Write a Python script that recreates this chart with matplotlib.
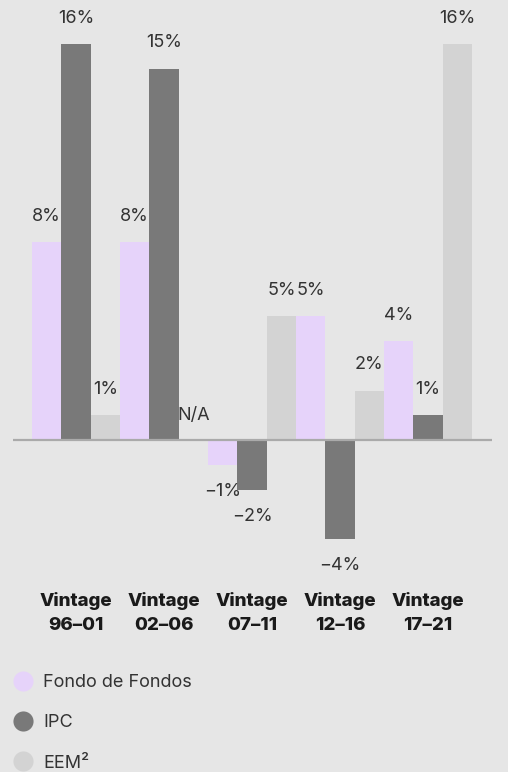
import numpy as np
import matplotlib.pyplot as plt
from matplotlib.lines import Line2D

# data
categories = ["Vintage\n96–01", "Vintage\n02–06", "Vintage\n07–11", "Vintage\n12–16", "Vintage\n17–21"]
series_names = ["Fondo de Fondos", "IPC", "EEM²"]
fondo = [8, 8, -1, 5, 4]
ipc = [16, 15, -2, -4, 1]
eem = [1, np.nan, 5, 2, 16]

colors = ["#e6d3fa", "#797979", "#d3d3d3"]
bg = "#e6e6e6"

plt.rcParams['font.family'] = ['Inter', 'DejaVu Sans']

W, H = 508, 772
fig = plt.figure(figsize=(W / 100, H / 100), dpi=100, facecolor=bg)
# axes spans pixel x 13..492, y 0..560
ax = fig.add_axes([13 / W, (H - 560) / H, 479 / W, 560 / H])
ax.set_facecolor(bg)

px_per_unit = 88.0
px_per_pct = 24.75
ax.set_xlim(-0.5 - 19 / px_per_unit, -0.5 - 19 / px_per_unit + 479 / px_per_unit)
ax.set_ylim(-(560 - 440) / px_per_pct, 440 / px_per_pct)

x = np.arange(len(categories))
w = 1 / 3


def fmt(v):
    s = f"{abs(v):.0f}%"
    return ("−" + s) if v < 0 else s


lbl = dict(textcoords='offset points', ha='center', va='center', fontsize=13, color='#333333')
for j, (vals, c) in enumerate(zip([fondo, ipc, eem], colors)):
    pos = x + (j - 1) * w
    ax.bar(pos, np.nan_to_num(vals), width=w, color=c, linewidth=0, zorder=2)
    for p, v in zip(pos, vals):
        if np.isnan(v):
            ax.annotate("N/A", (p, 0), xytext=(0, 18), **lbl)
        elif v >= 0:
            ax.annotate(fmt(v), (p, v), xytext=(0, 18.7), **lbl)
        else:
            ax.annotate(fmt(v), (p, v), xytext=(0, -19.4), **lbl)

ax.axhline(0, color='#aaaaaa', linewidth=1.6, zorder=3)

ax.set_xticks(x)
ax.set_xticklabels(categories, fontsize=13.5, fontweight='heavy', color='#1a1a1a', linespacing=1.55)
ax.tick_params(axis='x', length=0, pad=23)
ax.set_yticks([])
for s in ax.spines.values():
    s.set_visible(False)

handles = [Line2D([], [], marker='o', linestyle='', markersize=14.5, markerfacecolor=c,
                  markeredgewidth=0) for c in colors]
fig.legend(handles, series_names, loc='upper left', bbox_to_anchor=(16 / W, 1 - 674 / H),
           frameon=False, fontsize=13, labelcolor='#333333', handlelength=0.75,
           handletextpad=0.75, labelspacing=1.29, borderpad=0, borderaxespad=0)

fig.savefig("out.png", dpi=100, facecolor=bg)
